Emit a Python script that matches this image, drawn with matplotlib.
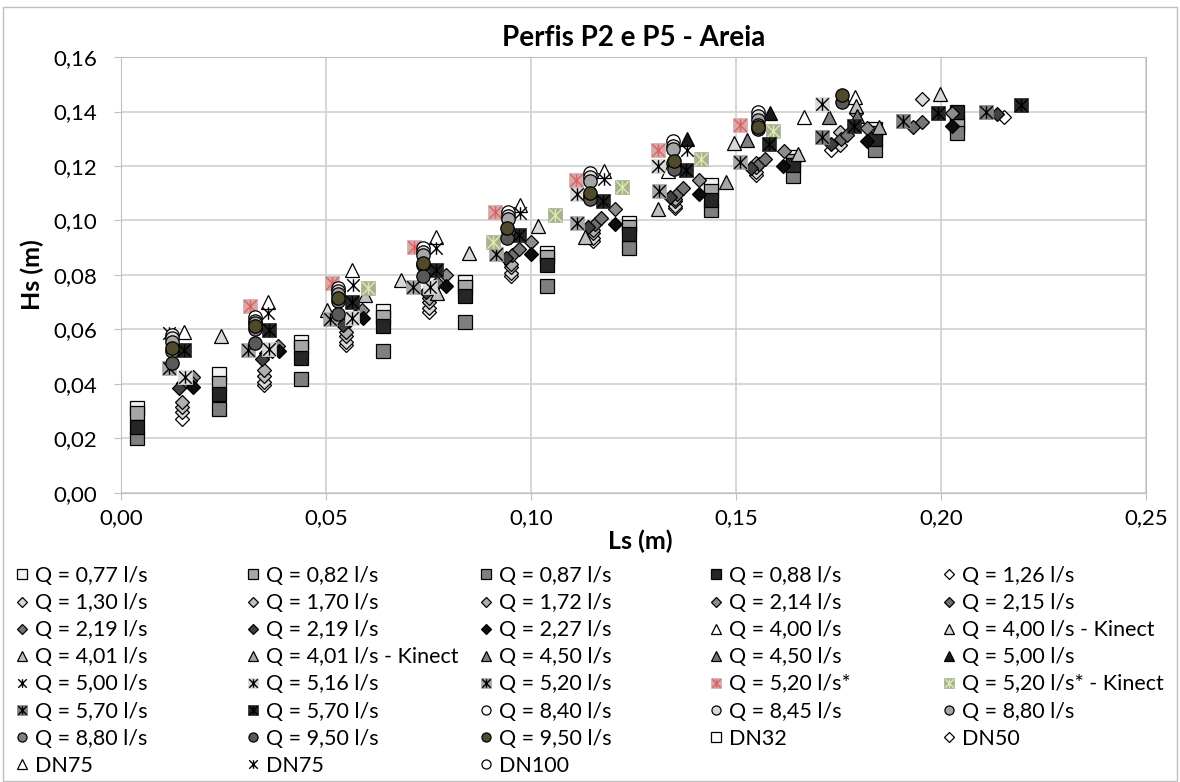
import matplotlib
matplotlib.use("Agg")
import matplotlib.pyplot as plt
from matplotlib.path import Path
from matplotlib.patches import Rectangle
from matplotlib.legend_handler import HandlerTuple
from matplotlib.ticker import FuncFormatter, MultipleLocator

plt.rcParams['font.family'] = ['Lato', 'DejaVu Sans']

# ---- data (Ls, Hs in m) ----
ls_sq = [0.004, 0.024, 0.044, 0.064, 0.084, 0.104, 0.124, 0.144, 0.164, 0.184, 0.204]
hs_077 = [0.0313, 0.0436, 0.0555, 0.0669, 0.0776, 0.0880, 0.0992, 0.1130, 0.1234, 0.1335, 0.1363]
hs_082 = [0.0292, 0.0405, 0.0535, 0.0645, 0.0757, 0.0865, 0.0977, 0.1110, 0.1220, 0.1320, 0.1345]
hs_087 = [0.0200, 0.0307, 0.0418, 0.0520, 0.0629, 0.0760, 0.0900, 0.1040, 0.1163, 0.1259, 0.1320]
hs_088 = [0.0243, 0.0362, 0.0494, 0.0613, 0.0723, 0.0837, 0.0950, 0.1075, 0.1204, 0.1300, 0.1397]

ls_126 = [0.0148, 0.0349, 0.0550, 0.0752, 0.0951, 0.1152, 0.1351, 0.1550, 0.1733, 0.2154]
hs_126 = [0.0272, 0.0396, 0.0543, 0.0665, 0.0796, 0.0926, 0.1045, 0.1167, 0.1259, 0.1378]
ls_130 = [0.0148, 0.0349, 0.0550, 0.0752, 0.0951, 0.1152, 0.1351, 0.1550, 0.1754, 0.1953]
hs_130 = [0.0298, 0.0408, 0.0555, 0.0680, 0.0808, 0.0935, 0.1055, 0.1178, 0.1277, 0.1445]
ls_170 = [0.0148, 0.0349, 0.0550, 0.0752, 0.0951, 0.1152, 0.1351, 0.1550, 0.1754]
hs_170 = [0.0317, 0.0430, 0.0576, 0.0702, 0.0828, 0.0953, 0.1070, 0.1198, 0.1326]
ls_172 = [0.0148, 0.0349, 0.0550, 0.0752, 0.0951, 0.1152, 0.1351, 0.1550, 0.1794]
hs_172 = [0.0335, 0.0450, 0.0590, 0.0715, 0.0840, 0.0965, 0.1080, 0.1210, 0.1396]
ls_214 = [0.0176, 0.0384, 0.0587, 0.0794, 0.1000, 0.1205, 0.1410, 0.1617, 0.1820, 0.2028]
hs_214 = [0.0427, 0.0540, 0.0672, 0.0800, 0.0922, 0.1041, 0.1149, 0.1256, 0.1338, 0.1396]
ls_215 = [0.0152, 0.0355, 0.0556, 0.0757, 0.0955, 0.1157, 0.1357, 0.1557, 0.1757, 0.1932]
hs_215 = [0.0402, 0.0512, 0.0632, 0.0752, 0.0872, 0.0988, 0.1098, 0.1208, 0.1298, 0.1344]
ls_219a = [0.0168, 0.0368, 0.0570, 0.0770, 0.0970, 0.1170, 0.1370, 0.1570, 0.1770, 0.1953]
hs_219a = [0.0412, 0.0522, 0.0648, 0.0772, 0.0895, 0.1010, 0.1118, 0.1225, 0.1312, 0.1363]
ls_219b = [0.0142, 0.0343, 0.0542, 0.0745, 0.0940, 0.1140, 0.1340, 0.1538, 0.1733, 0.2137]
hs_219b = [0.0384, 0.0490, 0.0617, 0.0739, 0.0862, 0.0975, 0.1085, 0.1192, 0.1281, 0.1391]
ls_227 = [0.0176, 0.0385, 0.0590, 0.0794, 0.1000, 0.1205, 0.1410, 0.1616, 0.1820, 0.2028]
hs_227 = [0.0390, 0.0520, 0.0641, 0.0760, 0.0877, 0.0987, 0.1096, 0.1200, 0.1293, 0.1347]

ls_400 = [0.0154, 0.0359, 0.0563, 0.0768, 0.0973, 0.1179, 0.1335, 0.1667, 0.1790]
hs_400 = [0.0592, 0.0702, 0.0818, 0.0941, 0.1057, 0.1182, 0.1180, 0.1381, 0.1454]
ls_400k = [0.0244, 0.0502, 0.0683, 0.0850, 0.1018, 0.1495, 0.1998]
hs_400k = [0.0576, 0.0672, 0.0782, 0.0880, 0.0980, 0.1283, 0.1464]
ls_401 = [0.0595, 0.0772, 0.1132, 0.1310, 0.1652, 0.1793]
hs_401 = [0.0727, 0.0733, 0.0941, 0.1041, 0.1244, 0.1420]
ls_401k = [0.1476, 0.1848]
hs_401k = [0.1142, 0.1343]
ls_450a = [0.1526, 0.1728]
hs_450a = [0.1296, 0.1378]
ls_450b = [0.1795]
hs_450b = [0.1385]
ls_500t = [0.1380, 0.1583]
hs_500t = [0.1300, 0.1394]

ls_500 = [0.0118, 0.0359, 0.0565, 0.0768, 0.0973, 0.1179, 0.1380]
hs_500 = [0.0586, 0.0660, 0.0763, 0.0898, 0.1026, 0.1151, 0.1259]
ls_516 = [0.0156, 0.0360, 0.0563, 0.0754, 0.1113, 0.1310, 0.1711]
hs_516 = [0.0424, 0.0528, 0.0641, 0.0755, 0.1097, 0.1200, 0.1428]
ls_520 = [0.0118, 0.0310, 0.0510, 0.0713, 0.0914, 0.1113, 0.1313, 0.1510]
hs_520 = [0.0458, 0.0525, 0.0637, 0.0755, 0.0877, 0.0992, 0.1108, 0.1216]
ls_520s = [0.0315, 0.0514, 0.0715, 0.0912, 0.1111, 0.1310, 0.1511]
hs_520s = [0.0686, 0.0770, 0.0904, 0.1030, 0.1149, 0.1259, 0.1350]
ls_520k = [0.0603, 0.0908, 0.1059, 0.1221, 0.1414, 0.1590]
hs_520k = [0.0751, 0.0922, 0.1020, 0.1122, 0.1224, 0.1330]
ls_570a = [0.1711, 0.1908, 0.2110]
hs_570a = [0.1305, 0.1366, 0.1400]
ls_570b = [0.0154, 0.0360, 0.0563, 0.0768, 0.0971, 0.1176, 0.1378, 0.1580, 0.1788, 0.1992, 0.2195]
hs_570b = [0.0525, 0.0598, 0.0702, 0.0818, 0.0947, 0.1073, 0.1185, 0.1280, 0.1347, 0.1394, 0.1424]

ls_circ = [0.0124, 0.0327, 0.0530, 0.0737, 0.0945, 0.1144, 0.1347, 0.1553]
hs_840 = [0.0580, 0.0646, 0.0752, 0.0898, 0.1032, 0.1173, 0.1290, 0.1400]
hs_845 = [0.0568, 0.0632, 0.0742, 0.0886, 0.1018, 0.1160, 0.1275, 0.1385]
hs_880a = [0.0555, 0.0622, 0.0730, 0.0872, 0.1005, 0.1145, 0.1262, 0.1370]
hs_880b = [0.0520, 0.0600, 0.0705, 0.0835, 0.0962, 0.1090, 0.1210, 0.1350]
ls_950 = [0.0124, 0.0327, 0.0530, 0.0737, 0.0942, 0.1144, 0.1350, 0.1555, 0.1758]
hs_950a = [0.0478, 0.0550, 0.0657, 0.0796, 0.0934, 0.1078, 0.1190, 0.1335, 0.1436]
hs_950b = [0.0531, 0.0613, 0.0714, 0.0843, 0.0971, 0.1100, 0.1220, 0.1344, 0.1460]

# excel style "star" marker: vertical bar plus an X
star = Path([(0, -1), (0, 1), (-1, -1), (1, 1), (-1, 1), (1, -1)],
            [Path.MOVETO, Path.LINETO] * 3)

fig = plt.figure(figsize=(11.8, 7.82), dpi=100)
ax = fig.add_axes([0.1025, 0.3696, 0.8686, 0.5575])

handles = []
labels = []


def pts(x, y, marker, face, ms, label):
    h = ax.plot(x, y, ls='none', marker=marker, ms=ms, mfc=face,
                mec='black', mew=0.9)[0]
    handles.append(h)
    labels.append(label)


def starpts(x, y, bg, fg, label):
    parts = []
    if bg is not None:
        parts.append(ax.plot(x, y, ls='none', marker='s', ms=9.8, mfc=bg,
                             mec=bg, mew=0.5)[0])
    parts.append(ax.plot(x, y, ls='none', marker=star, ms=9.0, mfc='none',
                         mec=fg, mew=1.0)[0])
    handles.append(tuple(parts))
    labels.append(label)


pts(ls_sq, hs_077, 's', '#f2f2f2', 9.6, 'Q = 0,77 l/s')
pts(ls_sq, hs_082, 's', '#a6a6a6', 9.6, 'Q = 0,82 l/s')
pts(ls_sq, hs_087, 's', '#7f7f7f', 9.6, 'Q = 0,87 l/s')
pts(ls_sq, hs_088, 's', '#262626', 9.6, 'Q = 0,88 l/s')
pts(ls_126, hs_126, 'D', '#ffffff', 7.0, 'Q = 1,26 l/s')
pts(ls_130, hs_130, 'D', '#d9d9d9', 7.0, 'Q = 1,30 l/s')
pts(ls_170, hs_170, 'D', '#bfbfbf', 7.0, 'Q = 1,70 l/s')
pts(ls_172, hs_172, 'D', '#b0b0b0', 7.0, 'Q = 1,72 l/s')
pts(ls_214, hs_214, 'D', '#8c8c8c', 7.0, 'Q = 2,14 l/s')
pts(ls_215, hs_215, 'D', '#6e6e6e', 7.0, 'Q = 2,15 l/s')
pts(ls_219a, hs_219a, 'D', '#767676', 7.0, 'Q = 2,19 l/s')
pts(ls_219b, hs_219b, 'D', '#404040', 7.0, 'Q = 2,19 l/s')
pts(ls_227, hs_227, 'D', '#0d0d0d', 7.0, 'Q = 2,27 l/s')
pts(ls_400, hs_400, '^', '#ffffff', 10.2, 'Q = 4,00 l/s')
pts(ls_400k, hs_400k, '^', '#d9d9d9', 10.2, 'Q = 4,00 l/s - Kinect')
pts(ls_401, hs_401, '^', '#bfbfbf', 10.2, 'Q = 4,01 l/s')
pts(ls_401k, hs_401k, '^', '#a6a6a6', 10.2, 'Q = 4,01 l/s - Kinect')
pts(ls_450a, hs_450a, '^', '#808080', 10.2, 'Q = 4,50 l/s')
pts(ls_450b, hs_450b, '^', '#737373', 10.2, 'Q = 4,50 l/s')
pts(ls_500t, hs_500t, '^', '#1a1a1a', 10.2, 'Q = 5,00 l/s')
starpts(ls_500, hs_500, None, 'black', 'Q = 5,00 l/s')
starpts(ls_516, hs_516, '#d9d9d9', 'black', 'Q = 5,16 l/s')
starpts(ls_520, hs_520, '#a6a6a6', 'black', 'Q = 5,20 l/s')
starpts(ls_520s, hs_520s, '#d3a9a9', '#e06060', 'Q = 5,20 l/s*')
starpts(ls_520k, hs_520k, '#a9b090', '#d8ecb0', 'Q = 5,20 l/s* - Kinect')
starpts(ls_570a, hs_570a, '#808080', 'black', 'Q = 5,70 l/s')
starpts(ls_570b, hs_570b, '#262626', 'black', 'Q = 5,70 l/s')
pts(ls_circ, hs_840, 'o', '#ffffff', 9.6, 'Q = 8,40 l/s')
pts(ls_circ, hs_845, 'o', '#d9d9d9', 9.6, 'Q = 8,45 l/s')
pts(ls_circ, hs_880a, 'o', '#a6a6a6', 9.6, 'Q = 8,80 l/s')
pts(ls_circ, hs_880b, 'o', '#808080', 9.6, 'Q = 8,80 l/s')
pts(ls_950, hs_950a, 'o', '#595959', 9.6, 'Q = 9,50 l/s')
pts(ls_950, hs_950b, 'o', '#4f4a2b', 9.6, 'Q = 9,50 l/s')
# reference pipes: legend entries only
pts([], [], 's', '#ffffff', 9.6, 'DN32')
pts([], [], 'D', '#ffffff', 7.0, 'DN50')
pts([], [], '^', '#ffffff', 10.2, 'DN75')
starpts([], [], None, 'black', 'DN75')
pts([], [], 'o', '#ffffff', 9.6, 'DN100')

ax.set_xlim(0, 0.25)
ax.set_ylim(0, 0.16)
ax.xaxis.set_major_locator(MultipleLocator(0.05))
ax.yaxis.set_major_locator(MultipleLocator(0.02))
comma = FuncFormatter(lambda v, p: f'{v:.2f}'.replace('.', ','))
ax.xaxis.set_major_formatter(comma)
ax.yaxis.set_major_formatter(comma)
ax.grid(True, color='#d0d0d0', lw=1.2)
ax.set_axisbelow(True)
for s in ax.spines.values():
    s.set_color('#bfbfbf')
ax.tick_params(length=5, color='#bfbfbf', labelsize=16)
ax.tick_params(axis='y', pad=12)
ax.tick_params(axis='x', pad=6)

ax.set_title('Perfis P2 e P5 - Areia', fontsize=20, fontweight='bold', pad=8)
ax.set_xlabel('Ls (m)', fontsize=18, fontweight='bold')
ax.set_ylabel('Hs (m)', fontsize=18, fontweight='bold')
ax.xaxis.set_label_coords(0.507, -0.085)
ax.yaxis.set_label_coords(-0.075, 0.5)

# legend: 5 evenly spaced columns, filled row by row
col_x = [15, 246, 479, 709, 942]
for c in range(5):
    idx = list(range(c, len(handles), 5))
    fig.legend([handles[i] for i in idx], [labels[i] for i in idx],
               loc='upper left', bbox_to_anchor=(col_x[c] / 1180, 1 - 566 / 782),
               frameon=False, fontsize=15.5, borderpad=0, borderaxespad=0,
               handlelength=0.65, handletextpad=0.3, labelspacing=0.33,
               markerscale=0.68, handler_map={tuple: HandlerTuple(ndivide=1, pad=0)})

fig.patches.append(Rectangle((3 / 1180, 1 / 782), 1174 / 1180, 774 / 782,
                             transform=fig.transFigure, fill=False,
                             edgecolor='#bfbfbf', lw=1))

fig.savefig('out.png', dpi=100)
